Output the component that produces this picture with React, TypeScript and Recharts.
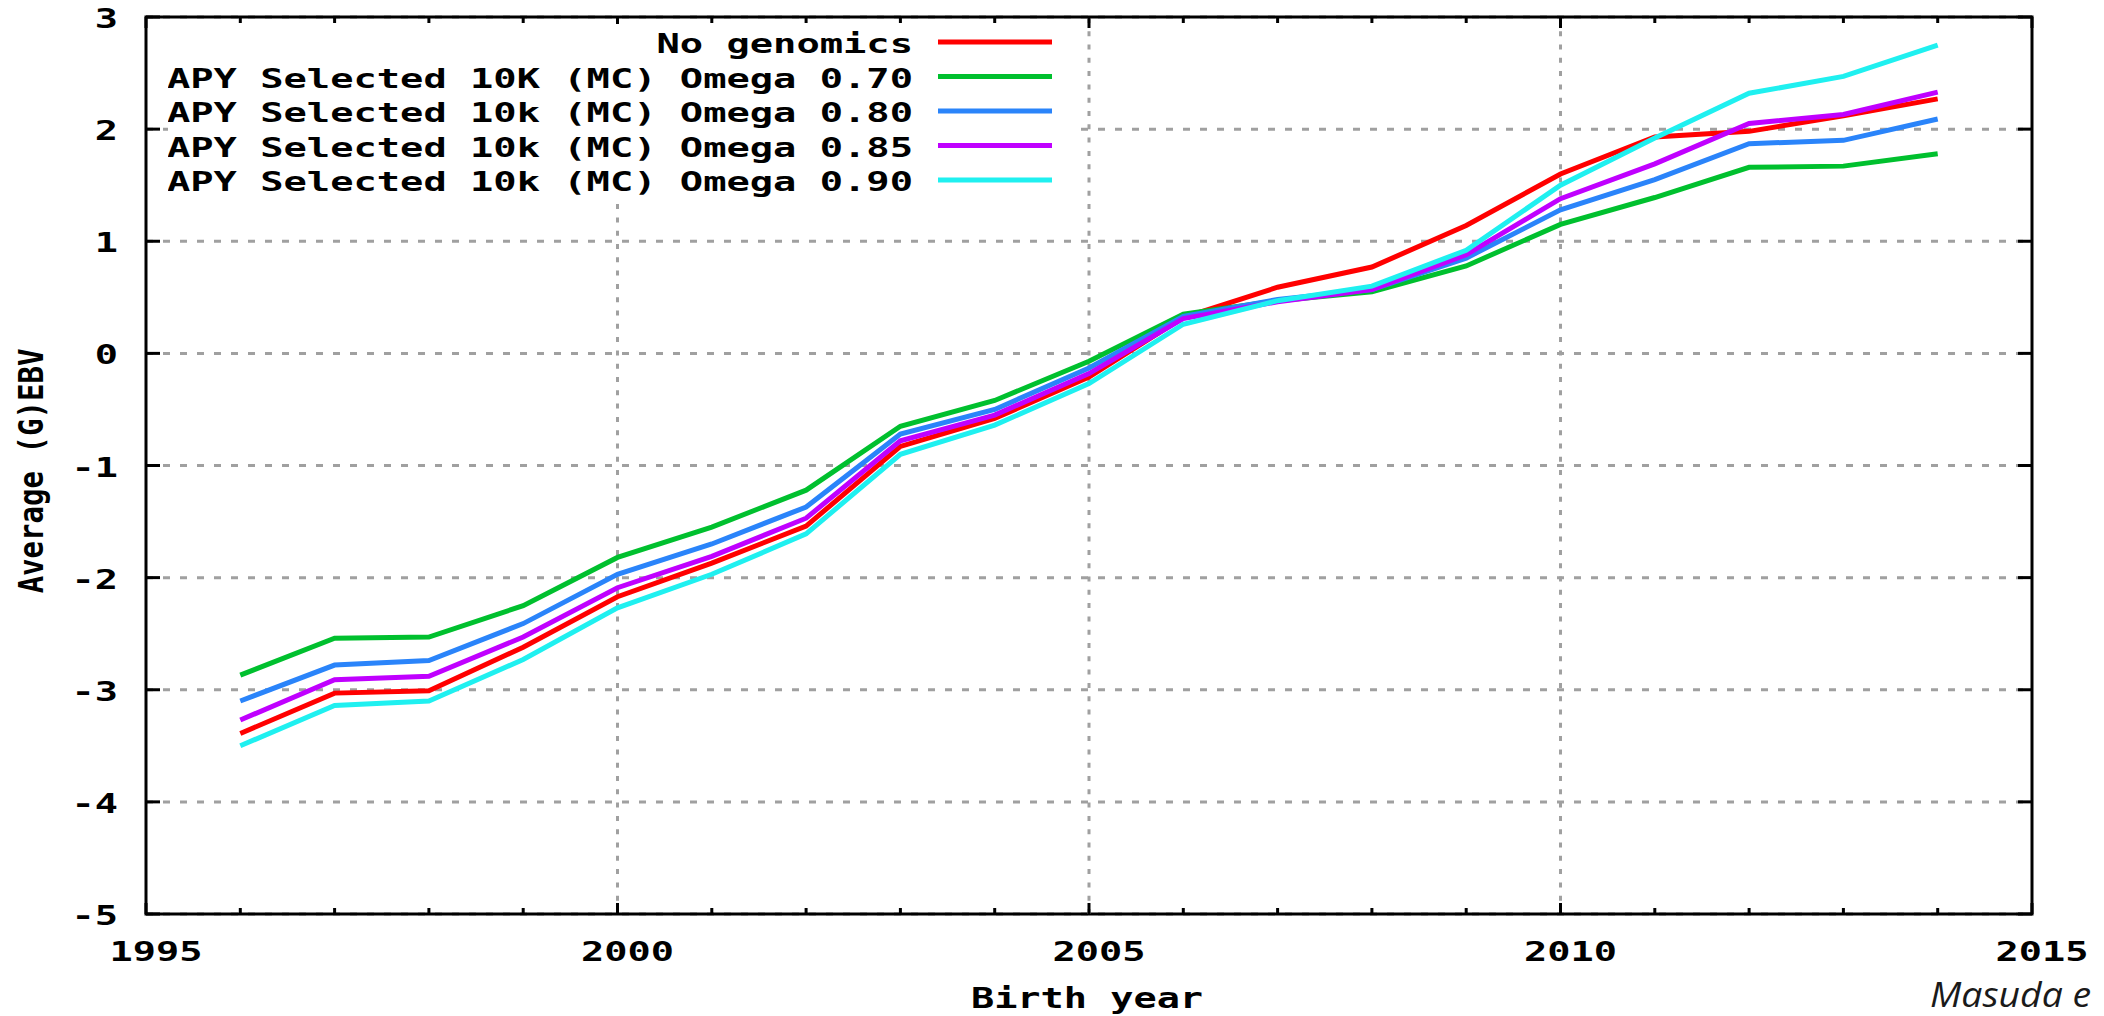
import React from 'react';
import { LineChart, Line, XAxis, YAxis, CartesianGrid, ReferenceLine, ReferenceArea, Legend } from 'recharts';

// ---------- data ----------
const years = [1996, 1997, 1998, 1999, 2000, 2001, 2002, 2003, 2004, 2005, 2006, 2007, 2008, 2009, 2010, 2011, 2012, 2013, 2014];
const noGenomics = [-3.39, -3.03, -3.01, -2.62, -2.17, -1.87, -1.54, -0.83, -0.58, -0.21, 0.32, 0.59, 0.77, 1.14, 1.6, 1.93, 1.98, 2.12, 2.27];
const omega070 = [-2.87, -2.54, -2.53, -2.25, -1.82, -1.55, -1.22, -0.65, -0.42, -0.07, 0.35, 0.47, 0.55, 0.78, 1.15, 1.39, 1.66, 1.67, 1.78];
const omega080 = [-3.1, -2.78, -2.74, -2.41, -1.97, -1.7, -1.37, -0.72, -0.5, -0.13, 0.33, 0.48, 0.57, 0.85, 1.28, 1.55, 1.87, 1.9, 2.09];
const omega085 = [-3.27, -2.91, -2.88, -2.53, -2.09, -1.81, -1.47, -0.78, -0.55, -0.18, 0.31, 0.46, 0.57, 0.88, 1.38, 1.69, 2.05, 2.13, 2.33];
const omega090 = [-3.5, -3.14, -3.1, -2.73, -2.27, -1.97, -1.61, -0.9, -0.64, -0.27, 0.26, 0.47, 0.6, 0.92, 1.5, 1.92, 2.32, 2.47, 2.75];

const seriesNames = [
  'No genomics',
  'APY Selected 10K (MC) Omega 0.70',
  'APY Selected 10k (MC) Omega 0.80',
  'APY Selected 10k (MC) Omega 0.85',
  'APY Selected 10k (MC) Omega 0.90',
];
const seriesKeys = ['s0', 's1', 's2', 's3', 's4'];
const seriesColors = ['#ff0000', '#00c02e', '#2a84fa', '#c000ff', '#1ff0f0'];

const xTicks = [1995, 1996, 1997, 1998, 1999, 2000, 2001, 2002, 2003, 2004, 2005, 2006, 2007, 2008, 2009, 2010, 2011, 2012, 2013, 2014, 2015];
const yTicks = [-5, -4, -3, -2, -1, 0, 1, 2, 3];
const xGridYears = [2000, 2005, 2010];
const xAxisTitle = 'Birth year';
const yAxisTitle = 'Average (G)EBV';
const sourceNote = 'Masuda e';

const data = years.map((year, i) => ({
  year,
  s0: noGenomics[i],
  s1: omega070[i],
  s2: omega080[i],
  s3: omega085[i],
  s4: omega090[i],
}));

// ---------- layout ----------
const W = 2104;
const H = 1016;
const PLOT = { left: 146, right: 2032, top: 17, bottom: 914 };
const FONT = '"DejaVu Sans Mono", "Liberation Mono", monospace';
const GRID = '#a0a0a0';

const XTick = (props: any) => {
  const { x, payload } = props;
  const v = payload.value as number;
  const major = v % 5 === 0;
  const len = major ? 11 : 6;
  return (
    <g>
      <line x1={x} x2={x} y1={PLOT.bottom} y2={PLOT.bottom - len} stroke="#000" strokeWidth={3} />
      <line x1={x} x2={x} y1={PLOT.top} y2={PLOT.top + len} stroke="#000" strokeWidth={3} />
      {major && (
        <text
          transform={`translate(${x + 10},961) scale(1.43,1)`}
          textAnchor="middle"
          fontFamily={FONT}
          fontWeight="bold"
          fontSize={27}
          fill="#000"
        >
          {v}
        </text>
      )}
    </g>
  );
};

const YTick = (props: any) => {
  const { y, payload } = props;
  const v = payload.value as number;
  return (
    <g>
      <line x1={PLOT.left} x2={PLOT.left + 14} y1={y} y2={y} stroke="#000" strokeWidth={3} />
      <line x1={PLOT.right} x2={PLOT.right - 14} y1={y} y2={y} stroke="#000" strokeWidth={3} />
      <text
        transform={`translate(118,${y + 11}) scale(1.43,1)`}
        textAnchor="end"
        fontFamily={FONT}
        fontWeight="bold"
        fontSize={27}
        fill="#000"
      >
        {v}
      </text>
    </g>
  );
};

const LegendBox = () => (
  <svg width={904} height={176} style={{ display: 'block' }}>
    {seriesNames.map((name, i) => {
      const y = 18 + i * 34.5;
      return (
        <g key={name}>
          <text
            transform={`translate(745,${y + 11}) scale(1.435,1)`}
            textAnchor="end"
            fontFamily={FONT}
            fontWeight="bold"
            fontSize={27}
            fill="#000"
          >
            {name}
          </text>
          <line x1={770} x2={884} y1={y} y2={y} stroke={seriesColors[i]} strokeWidth={5} />
        </g>
      );
    })}
  </svg>
);

export default function App() {
  return (
    <div style={{ position: 'relative', width: W, height: H, overflow: 'hidden', background: '#fff' }}>
      <style>{'html,body{margin:0;padding:0;overflow:hidden;background:#fff}'}</style>
      <LineChart width={W} height={H} data={data} margin={{ top: PLOT.top, right: W - PLOT.right, bottom: 0, left: 0 }}>
        <CartesianGrid vertical={false} stroke={GRID} strokeWidth={3} strokeDasharray="7 10" />
        {xGridYears.map((yr) => (
          <ReferenceLine key={yr} x={yr} stroke={GRID} strokeWidth={3} strokeDasharray="5 8.3" />
        ))}
        <XAxis
          dataKey="year"
          type="number"
          domain={[1995, 2015]}
          ticks={xTicks}
          interval={0}
          height={H - PLOT.bottom}
          axisLine={false}
          tickLine={false}
          tick={<XTick />}
          label={{
            value: xAxisTitle,
            content: () => (
              <text
                transform="translate(1087,1008) scale(1.33,1)"
                textAnchor="middle"
                fontFamily={FONT}
                fontWeight="bold"
                fontSize={29}
                fill="#000"
              >
                {xAxisTitle}
              </text>
            ),
          }}
        />
        <YAxis
          type="number"
          domain={[-5, 3]}
          ticks={yTicks}
          interval={0}
          width={PLOT.left}
          axisLine={false}
          tickLine={false}
          tick={<YTick />}
          label={{
            value: yAxisTitle,
            content: () => (
              <text
                transform="translate(43,471) rotate(-90) scale(0.88,1)"
                textAnchor="middle"
                fontFamily={FONT}
                fontWeight="bold"
                fontSize={33}
                fill="#000"
              >
                {yAxisTitle}
              </text>
            ),
          }}
        />
        <ReferenceArea x1={1995} x2={2015} y1={-5} y2={3} fill="none" fillOpacity={0} stroke="#000" strokeWidth={3} />
        {seriesKeys.map((k, i) => (
          <Line
            key={k}
            type="linear"
            dataKey={k}
            name={seriesNames[i]}
            stroke={seriesColors[i]}
            strokeWidth={5}
            dot={false}
            activeDot={false}
            isAnimationActive={false}
            legendType="none"
          />
        ))}
        <Legend
          layout="horizontal"
          verticalAlign="middle"
          align="center"
          wrapperStyle={{ position: 'absolute', left: 168, top: 24, width: 904, height: 176, background: '#fff' }}
          content={() => <LegendBox />}
        />
      </LineChart>
      <div
        style={{
          position: 'absolute',
          left: 1930,
          top: 976,
          height: 36,
          fontFamily: '"Open Sans", sans-serif',
          fontStyle: 'italic',
          fontSize: 34,
          lineHeight: '36px',
          color: '#1a1a1a',
          whiteSpace: 'nowrap',
          transform: 'scaleX(1.1)',
          transformOrigin: 'left top',
        }}
      >
        {sourceNote}
      </div>
    </div>
  );
}
